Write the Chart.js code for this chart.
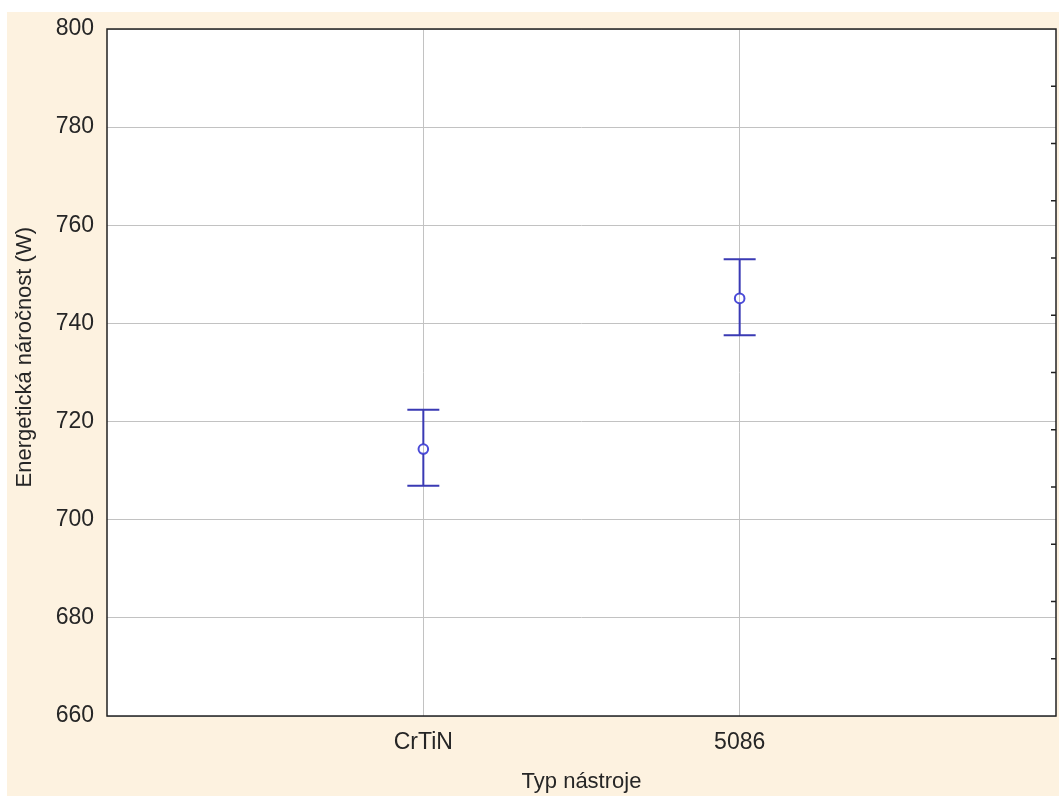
<!DOCTYPE html>
<html>
<head>
<meta charset="utf-8">
<script src="https://cdn.jsdelivr.net/npm/chart.js@4/dist/chart.umd.min.js"></script>
<style>
  body { margin: 0; background: #ffffff; }
  canvas { display: block; }
</style>
</head>
<body>
<canvas id="energieChart" width="1059" height="796"></canvas>
<script>
const categories = ['CrTiN', '5086'];
const means = [714.4, 745.1];
const lower = [706.9, 737.6];
const upper = [722.4, 753.1];
const yTicks = [660, 680, 700, 720, 740, 760, 780, 800];

const FONT = 'Liberation Sans, Arial, sans-serif';
const TEXT = '#262626';

// pozadi: bily okraj + bezova plocha
const backgroundPlugin = {
  id: 'background',
  beforeDraw(chart) {
    const ctx = chart.ctx;
    ctx.save();
    ctx.fillStyle = '#ffffff';
    ctx.fillRect(0, 0, chart.width, chart.height);
    ctx.fillStyle = '#fdf2e0';
    ctx.fillRect(7, 12, chart.width - 7, chart.height - 12);
    const a = chart.chartArea;
    ctx.fillStyle = '#ffffff';
    ctx.fillRect(a.left, a.top, a.right - a.left, a.bottom - a.top);
    ctx.restore();
  }
};

// ramecek grafu, vnitrni znacky na prave ose a chybove useky
const errorBarPlugin = {
  id: 'errorBars',
  afterDatasetsDraw(chart) {
    const ctx = chart.ctx;
    const x = chart.scales.x;
    const y = chart.scales.y;
    const y2 = chart.scales.y2;
    const a = chart.chartArea;
    ctx.save();

    ctx.strokeStyle = '#222222';
    ctx.lineWidth = 1.5;
    ctx.strokeRect(a.left, a.top, a.right - a.left, a.bottom - a.top);

    for (let v = 1; v < 12; v++) {
      const py = y2.getPixelForValue(v);
      ctx.beginPath();
      ctx.moveTo(a.right, py);
      ctx.lineTo(a.right - 5, py);
      ctx.stroke();
    }

    ctx.strokeStyle = '#3a3ab4';
    ctx.lineWidth = 2;
    categories.forEach((c, i) => {
      const px = x.getPixelForValue(i + 1);
      const top = y.getPixelForValue(upper[i]);
      const bot = y.getPixelForValue(lower[i]);
      const mid = y.getPixelForValue(means[i]);
      ctx.beginPath();
      ctx.moveTo(px, top);
      ctx.lineTo(px, mid - 5);
      ctx.moveTo(px, mid + 5);
      ctx.lineTo(px, bot);
      ctx.moveTo(px - 16, top);
      ctx.lineTo(px + 16, top);
      ctx.moveTo(px - 16, bot);
      ctx.lineTo(px + 16, bot);
      ctx.stroke();
    });
    ctx.restore();
  }
};

const ctx = document.getElementById('energieChart').getContext('2d');

new Chart(ctx, {
  type: 'scatter',
  data: {
    datasets: [{
      label: 'Energetická náročnost',
      data: categories.map((c, i) => ({ x: i + 1, y: means[i] })),
      pointStyle: 'circle',
      pointRadius: 4.8,
      pointBorderWidth: 2,
      pointBorderColor: '#4b4bd8',
      pointBackgroundColor: 'rgba(0,0,0,0)'
    }]
  },
  options: {
    responsive: false,
    animation: false,
    layout: { autoPadding: false, padding: { left: 7, top: 29, right: 3, bottom: 1 } },
    plugins: {
      legend: { display: false },
      tooltip: { enabled: false }
    },
    scales: {
      x: {
        type: 'linear',
        min: 0,
        max: 3,
        afterBuildTicks(scale) {
          scale.ticks = categories.map((c, i) => ({ value: i + 1 }));
        },
        afterFit(scale) {
          scale.height = 79;
          scale.paddingLeft = 0;
          scale.paddingRight = 0;
        },
        grid: { color: '#c2c2c2', lineWidth: 1, drawTicks: false },
        border: { display: false },
        ticks: {
          padding: 13,
          color: TEXT,
          font: { family: FONT, size: 23 },
          callback: (v) => categories[v - 1]
        },
        title: {
          display: true,
          text: 'Typ nástroje',
          color: TEXT,
          font: { family: FONT, size: 22 },
          padding: { top: 0, bottom: 0 }
        }
      },
      y: {
        min: 660,
        max: 800,
        afterBuildTicks(scale) {
          scale.ticks = yTicks.map(v => ({ value: v }));
        },
        afterFit(scale) { scale.width = 100; },
        grid: { color: '#c2c2c2', lineWidth: 1, drawTicks: false },
        border: { display: false },
        ticks: {
          padding: 13,
          color: TEXT,
          font: { family: FONT, size: 23 }
        },
        title: {
          display: true,
          // mezery na zacatku posouvaji stred popisku nahoru jako v originale
          text: '     Energetická náročnost (W)',
          color: TEXT,
          font: { family: FONT, size: 22 },
          padding: { top: 5, bottom: 0 }
        }
      },
      y2: {
        display: false,
        position: 'right',
        min: 0,
        max: 12
      }
    }
  },
  plugins: [backgroundPlugin, errorBarPlugin]
});
</script>
</body>
</html>
